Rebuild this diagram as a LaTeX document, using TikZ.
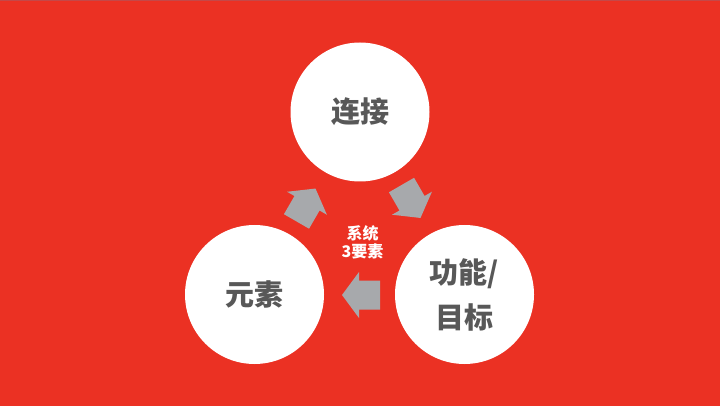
\documentclass[tikz,border=0pt]{standalone}
\usepackage{fontspec}
\newfontfamily\cjk{Noto Sans CJK SC}
\definecolor{bgred}{RGB}{235,49,35}
\definecolor{topstrip}{RGB}{196,72,72}
\definecolor{arrgray}{RGB}{167,169,172}
\definecolor{txtgray}{RGB}{88,88,88}
\tikzset{
  circ/.style={circle, fill=white, minimum size=139pt, inner sep=0pt,
    text=txtgray, align=center, font=\cjk\bfseries\fontsize{29}{45}\selectfont},
  centertxt/.style={text=white, align=center, inner sep=0pt,
    font=\cjk\bfseries\fontsize{16}{17.5}\selectfont},
  blockarr/.pic={\fill[arrgray] (-19,0) -- (-2,-23) -- (-2,-14.5) -- (19,-14.5)
     -- (19,14.5) -- (-2,14.5) -- (-2,23) -- cycle;}
}
\begin{document}
\begin{tikzpicture}[x=1pt,y=-1pt]
\useasboundingbox (0,0) rectangle (720,406);
\fill[bgred] (0,0) rectangle (720,406);
\fill[topstrip] (0,0) rectangle (720,1.5);
\node[circ] (lianjie) at (360,112) {连接};
\node[circ] (yuansu) at (254.5,294.5) {元素};
\node[circ] (gongneng) at (464.5,294.5) {功能/\\目标};
\node[centertxt] (xitong) at (362.5,242.5) {系统\\3要素};
\pic[rotate=-120] at (306,205) {blockarr};
\pic[rotate=120] at (411,201.5) {blockarr};
\pic at (361,295) {blockarr};
\end{tikzpicture}
\end{document}
